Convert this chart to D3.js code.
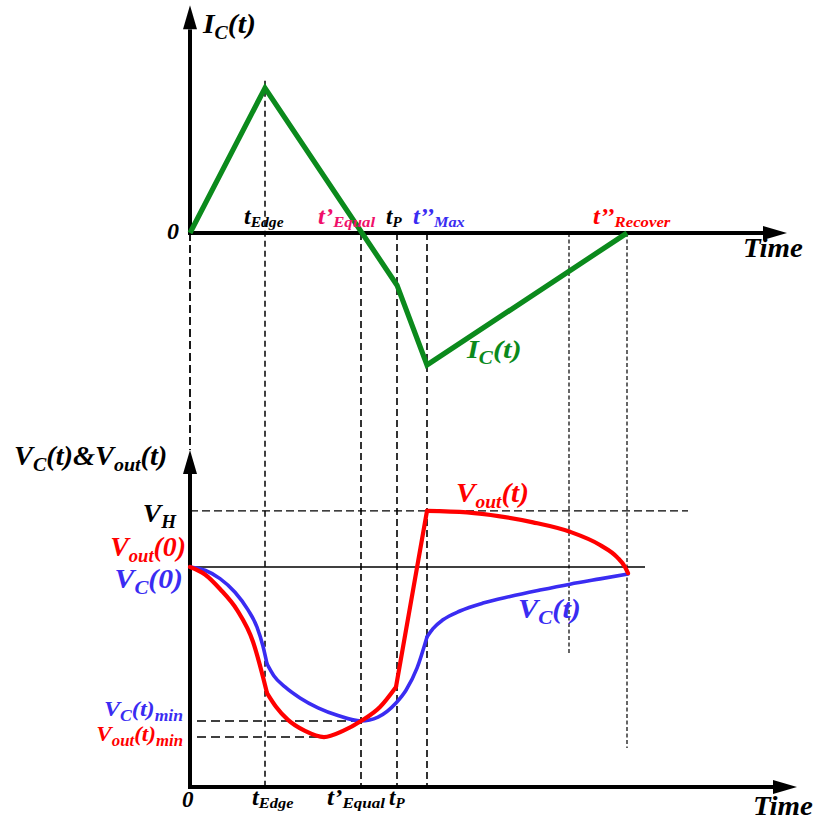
<!DOCTYPE html>
<html>
<head>
<meta charset="utf-8">
<script src="https://cdn.jsdelivr.net/npm/d3@7"></script>
<style>
  html, body { margin: 0; padding: 0; background: #fff; }
  svg { display: block; }
  text { font-family: "Liberation Serif", "Times New Roman", serif; font-weight: bold; font-style: italic; }
</style>
</head>
<body>
<svg id="chart" width="816" height="822"></svg>
<script>
// ---- key instants on the shared time axis (arbitrary time units) ----
const keyNames = ["0", "tEdge", "tEqual", "tP", "tMax", "tMid", "tRecover"];
const keyTimes = [0, 7.5, 17.1, 20.7, 23.7, 37.9, 43.7];

// ---- capacitor current I_C(t), normalised to its peak ----
const icTime  = [0, 7.5, 20.7, 23.7, 43.7];
const icValue = [0, 1.0, -0.36, -0.91, 0];

// ---- capacitor voltage V_C(t), normalised to V_C(0) ----
const vcTime  = [0, 1.5, 3.0, 4.5, 5.8, 6.7, 7.3, 7.7, 8.4, 9.5, 11.0, 12.8, 14.8, 17.1, 18.8, 20.6, 21.6, 22.7, 23.7, 24.3, 25.3, 27.0, 29.3, 32.0, 35.0, 38.0, 41.0, 43.8];
const vcValue = [1.000, 0.985, 0.947, 0.885, 0.805, 0.727, 0.640, 0.560, 0.505, 0.455, 0.405, 0.360, 0.325, 0.300, 0.318, 0.382, 0.440, 0.540, 0.682, 0.720, 0.760, 0.800, 0.836, 0.866, 0.895, 0.922, 0.946, 0.968];
const vcBreaks = [7.7, 23.7];

// ---- output voltage V_out(t), normalised to V_out(0) ----
const voutTime  = [0, 1.5, 3.0, 4.7, 6.3, 7.3, 7.7, 8.6, 9.8, 11.5, 13.4, 15.3, 17.1, 19.0, 20.6, 23.7, 27.7, 31.0, 34.3, 38.0, 41.0, 42.7, 43.5, 43.8];
const voutValue = [1.000, 0.966, 0.900, 0.805, 0.660, 0.500, 0.427, 0.365, 0.305, 0.255, 0.227, 0.255, 0.300, 0.364, 0.455, 1.255, 1.248, 1.230, 1.203, 1.160, 1.100, 1.045, 1.000, 0.972];
const voutBreaks = [7.7, 20.6, 23.7];

// ---- reference levels ----
const vHigh = 1.255, vStart = 1.0, vcMin = 0.300, voutMin = 0.227;

// ---- axis extents ----
const timeEnd = 62;
const topAxisEnd = 59.7, bottomAxisEnd = 60.7;
const icAxisTop = 1.57, vAxisTop = 1.532;

const svg = d3.select("#chart");
const x  = d3.scaleLinear().domain([0, timeEnd]).range([190, 810]);
const yI = d3.scaleLinear().domain([0, 1]).range([233, 88]);
const yV = d3.scaleLinear().domain([0, 1]).range([787, 567]);

const GREEN = "#0b8a1c", RED = "#ff0000", BLUE = "#3a2cf2", PINK = "#f0106a";

// ---- vertical guide lines through both panels ----
const guides = [
  { t: keyTimes[0], i0: 0,    v1: vAxisTop, dash: "8,4", w: 1.8 },
  { t: keyTimes[1], i0: 1.05, v1: 0,        dash: "6,4", w: 1.5 },
  { t: keyTimes[2], i0: 0,    v1: 0,        dash: "7,4", w: 1.6 },
  { t: keyTimes[3], i0: 0,    v1: 0,        dash: "7,4", w: 1.6 },
  { t: keyTimes[4], i0: 0,    v1: 0,        dash: "7,4", w: 1.6 },
  { t: keyTimes[5], i0: 0,    v1: 0.60,     dash: "4,2.5", w: 1.2 },
  { t: keyTimes[6], i0: 0,    v1: 0.177,    dash: "4,2.5", w: 1.2 }
];
svg.append("g").selectAll("line").data(guides).join("line")
  .attr("x1", d => x(d.t)).attr("x2", d => x(d.t))
  .attr("y1", d => yI(d.i0)).attr("y2", d => yV(d.v1))
  .attr("stroke", "#000").attr("stroke-width", d => d.w)
  .attr("stroke-dasharray", d => d.dash);

// ---- horizontal reference levels in the voltage panel ----
const levels = [
  { v: vHigh,   t0: 0,   t1: 49.8, dash: "8,4", w: 1.4 },
  { v: vStart,  t0: 0,   t1: 45.5, dash: null,  w: 1.3 },
  { v: vcMin,   t0: 0.7, t1: keyTimes[2], dash: "9,5", w: 1.4 },
  { v: voutMin, t0: 0.7, t1: 13.4, dash: "9,5", w: 1.4 }
];
svg.append("g").selectAll("line").data(levels).join("line")
  .attr("x1", d => x(d.t0)).attr("x2", d => x(d.t1))
  .attr("y1", d => yV(d.v)).attr("y2", d => yV(d.v))
  .attr("stroke", "#000").attr("stroke-width", d => d.w)
  .attr("stroke-dasharray", d => d.dash);

// ---- axes with arrow heads ----
function arrowAxis(x1, y1, x2, y2) {
  const g = svg.append("g");
  const ang = Math.atan2(y2 - y1, x2 - x1);
  const L = 24, W = 7;
  const bx = x2 - L * Math.cos(ang), by = y2 - L * Math.sin(ang);
  g.append("line").attr("x1", x1).attr("y1", y1).attr("x2", bx).attr("y2", by)
    .attr("stroke", "#000").attr("stroke-width", 4);
  const px = -Math.sin(ang) * W, py = Math.cos(ang) * W;
  g.append("path")
    .attr("d", `M${x2},${y2}L${bx + px},${by + py}L${bx - px},${by - py}Z`)
    .attr("fill", "#000");
}
// current panel
arrowAxis(x(0), yI(0) + 2, x(0), yI(icAxisTop));
arrowAxis(x(0) - 2, yI(0), x(topAxisEnd), yI(0));
// voltage panel
arrowAxis(x(0), yV(0) + 2, x(0), yV(vAxisTop));
arrowAxis(x(0) - 2, yV(0), x(bottomAxisEnd), yV(0));

// ---- curves, split at the switching instants so the corners stay sharp ----
function pieces(ts, vs, breaks) {
  const out = [];
  let cur = [];
  ts.forEach((t, i) => {
    cur.push([t, vs[i]]);
    if (breaks.includes(t)) { out.push(cur); cur = [[t, vs[i]]]; }
  });
  if (cur.length > 1) out.push(cur);
  return out;
}
const vLine = d3.line().x(d => x(d[0])).y(d => yV(d[1])).curve(d3.curveMonotoneX);

svg.append("g").selectAll("path").data(pieces(vcTime, vcValue, vcBreaks)).join("path")
  .attr("d", vLine).attr("fill", "none").attr("stroke", BLUE)
  .attr("stroke-width", 3.6).attr("stroke-linejoin", "round").attr("stroke-linecap", "round");

svg.append("g").selectAll("path").data(pieces(voutTime, voutValue, voutBreaks)).join("path")
  .attr("d", vLine).attr("fill", "none").attr("stroke", RED)
  .attr("stroke-width", 4.2).attr("stroke-linejoin", "round").attr("stroke-linecap", "round");

const iLine = d3.line().x((d, i) => x(icTime[i])).y(d => yI(d));
svg.append("path").datum(icValue).attr("d", iLine)
  .attr("fill", "none").attr("stroke", GREEN).attr("stroke-width", 5.2)
  .attr("stroke-linejoin", "miter");

// ---- rich text labels (main text with subscripts) ----
function label(px, py, parts, opt) {
  const size = opt.size, sub = opt.sub || Math.round(size * 0.66);
  const sx = opt.sx || 1;
  const g = svg.append("g").attr("transform", `translate(${px},${py}) scale(${sx},1)`);
  const t = g.append("text").attr("x", 0).attr("y", 0)
    .attr("font-size", size).attr("fill", opt.color || "#000")
    .attr("text-anchor", opt.anchor || "start");
  let shift = 0;
  const down = opt.down != null ? opt.down : Math.round(size * 0.22);
  parts.forEach(p => {
    const isSub = Array.isArray(p);
    const txt = isSub ? p[0] : p;
    const target = isSub ? down : 0;
    t.append("tspan").text(txt)
      .attr("font-size", isSub ? sub : size)
      .attr("dy", target - shift);
    shift = target;
  });
  return t;
}

// current panel labels
label(203, 33, ["I", ["C"], "(t)"], { size: 27, sub: 18, sx: 1.1 });
label(743, 257, ["Time"], { size: 27, sx: 1.07 });
label(167, 239, ["0"], { size: 24 });
label(244, 224, ["t", ["Edge"]], { size: 23, sub: 15, down: 3, sx: 1.04 });
label(318, 224, ["t’", ["Equal"]], { size: 23, sub: 15.5, down: 3, color: PINK, sx: 1.08 });
label(386, 224, ["t", ["P"]], { size: 23, sub: 15, down: 3 });
label(413, 224, ["t’’", ["Max"]], { size: 23, sub: 15.5, down: 3, color: BLUE, sx: 1.05 });
label(593, 224, ["t’’", ["Recover"]], { size: 23, sub: 15.5, down: 3, color: RED, sx: 1.08 });
label(467, 358, ["I", ["C"], "(t)"], { size: 26, sub: 18, color: GREEN, sx: 1.17 });

// voltage panel labels
label(14, 465, ["V", ["C"], "(t)&V", ["out"], "(t)"], { size: 27, sub: 19, sx: 1.05 });
label(176, 522, ["V", ["H"]], { size: 26, sub: 18, anchor: "end", sx: 1.06 });
label(186, 556, ["V", ["out"], "(0)"], { size: 27, sub: 18, anchor: "end", color: RED, sx: 1.03 });
label(183, 588, ["V", ["C"], "(0)"], { size: 27, sub: 19, anchor: "end", color: BLUE, sx: 1.1 });
label(183, 716, ["V", ["C"], "(t)", ["min"]], { size: 22, sub: 16, anchor: "end", color: BLUE, sx: 1.1 });
label(183, 741, ["V", ["out"], "(t)", ["min"]], { size: 22, sub: 16, anchor: "end", color: RED, sx: 1.05 });
label(456, 502, ["V", ["out"], "(t)"], { size: 27, sub: 18, color: RED, sx: 1.08 });
label(518, 618, ["V", ["C"], "(t)"], { size: 27, sub: 19, color: BLUE, sx: 1.12 });

label(182, 807, ["0"], { size: 23 });
label(252, 805, ["t", ["Edge"]], { size: 23, sub: 15.5, down: 3, sx: 1.06 });
label(327, 805, ["t’", ["Equal"]], { size: 23, sub: 15.5, down: 3, sx: 1.1 });
label(389, 805, ["t", ["P"]], { size: 23, sub: 15, down: 3 });
label(753, 815, ["Time"], { size: 27, sx: 1.07 });
</script>
</body>
</html>
